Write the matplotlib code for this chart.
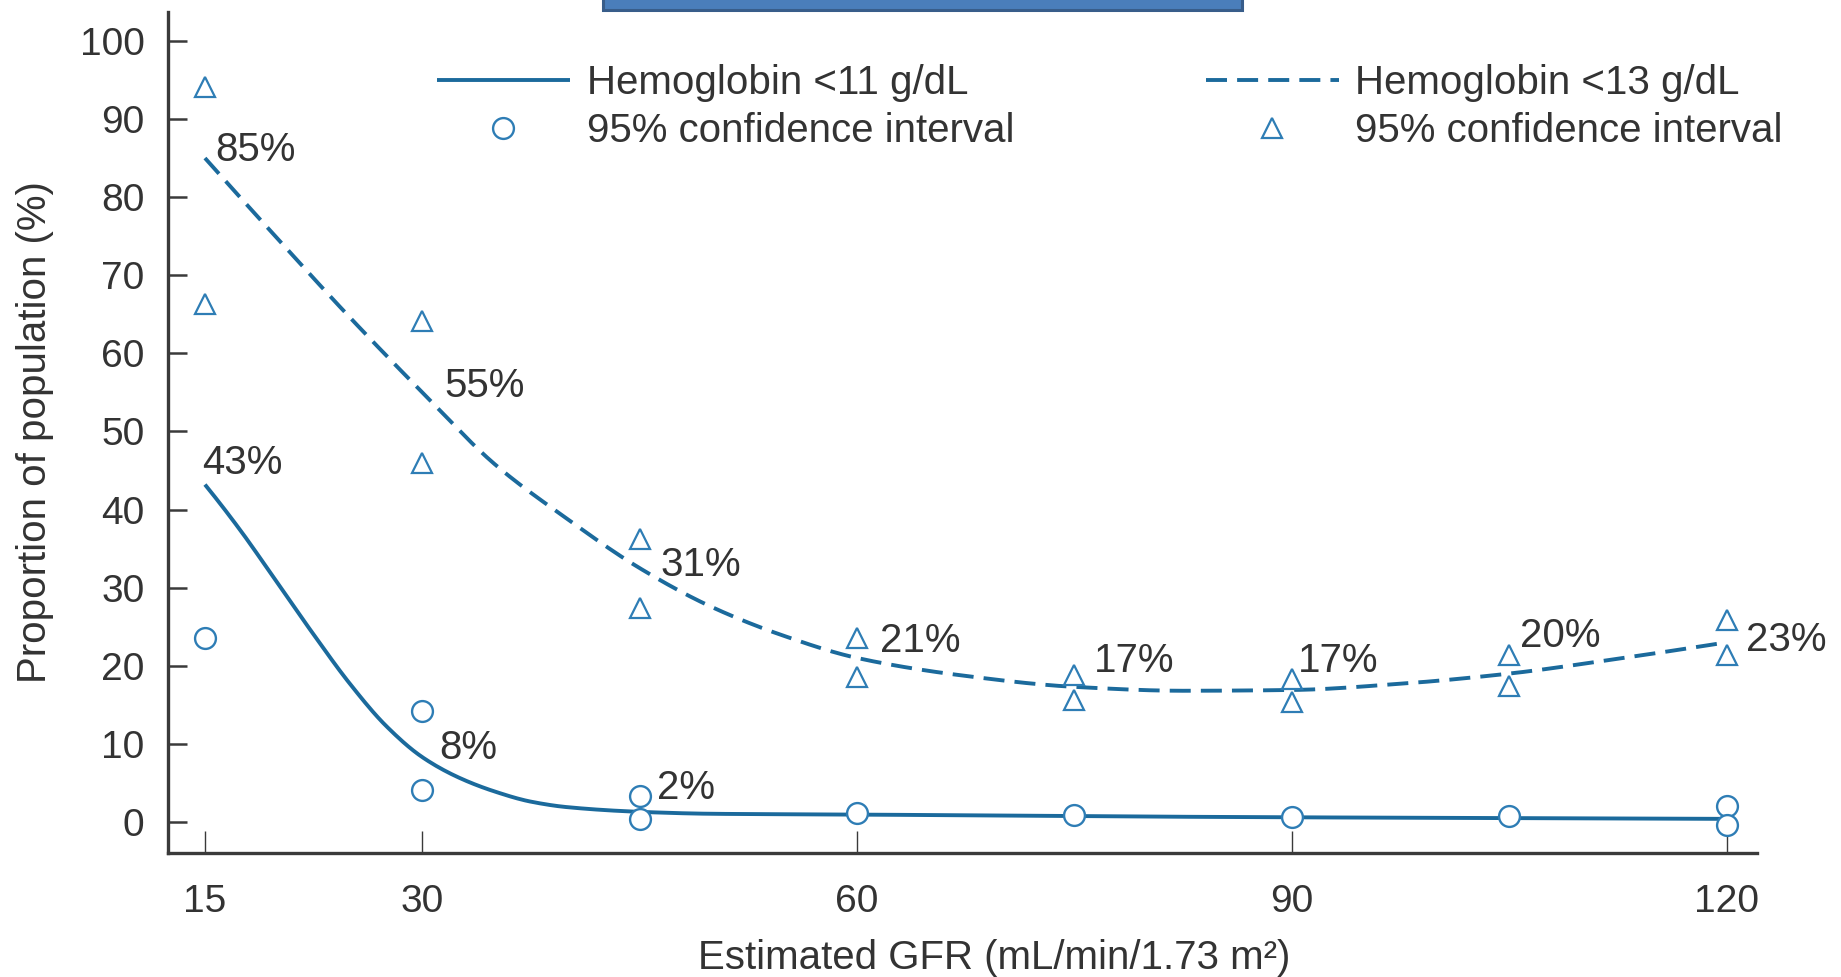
import numpy as np
import matplotlib
matplotlib.use("Agg")
import matplotlib.pyplot as plt
from matplotlib.patches import Rectangle

# ---------------- data ----------------
gfr_ticks = [15, 30, 60, 90, 120]
y_ticks = list(range(0, 101, 10))

# Hemoglobin < 11 g/dL fitted curve
hb11_curve_x = [15, 17.5, 20, 22.5, 25, 27.5, 30, 32.5, 35, 37.5, 40, 45, 50, 60, 75, 90, 105, 120]
hb11_curve_y = [43.2, 37.2, 30.6, 24.0, 17.7, 12.3, 8.3, 5.7, 3.9, 2.6, 1.9, 1.3, 1.05, 0.95, 0.75, 0.6, 0.5, 0.4]
# 95% CI markers (circles)
hb11_ci_x = [15, 30, 30, 45, 45, 60, 75, 90, 105, 120, 120]
hb11_ci_y = [23.5, 14.2, 4.1, 3.3, 0.4, 1.1, 0.9, 0.7, 0.8, 2.0, -0.4]
# labelled estimates
hb11_lab_x = [15, 30, 45]
hb11_lab_v = [43, 8, 2]

# Hemoglobin < 13 g/dL fitted curve
hb13_curve_x = [15, 20, 25, 30, 35, 40, 45, 50, 55, 60, 67.5, 75, 82.5, 90, 97.5, 105, 112.5, 120]
hb13_curve_y = [85, 74.7, 64.6, 55, 45.8, 38.8, 32.5, 27.5, 23.8, 21, 18.7, 17.3, 16.8, 16.9, 17.7, 19.0, 20.9, 23.0]
# 95% CI markers (triangles)
hb13_ci_x = [15, 15, 30, 30, 45, 45, 60, 60, 75, 75, 90, 90, 105, 105, 120, 120]
hb13_ci_y = [94.1, 66.3, 64.2, 46.0, 36.2, 27.4, 23.6, 18.5, 18.8, 15.6, 18.3, 15.3, 21.4, 17.4, 25.9, 21.4]
hb13_lab_x = [15, 30, 45, 60, 75, 90, 105, 120]
hb13_lab_v = [85, 55, 31, 21, 17, 17, 20, 23]

# ---------------- styling ----------------
LINE = "#1b6a9c"
MARK = "#2e7db5"
TXT = "#333333"
FS = 29

plt.rcParams["font.family"] = ["Liberation Sans", "DejaVu Sans"]


def smooth(x, y, n=600):
    """monotone cubic Hermite rendering of a curve through given points"""
    x = np.asarray(x, float)
    y = np.asarray(y, float)
    h = np.diff(x)
    d = np.diff(y) / h
    m = np.zeros_like(y)
    # three-point end slopes
    m[0] = ((2 * h[0] + h[1]) * d[0] - h[0] * d[1]) / (h[0] + h[1])
    m[-1] = ((2 * h[-1] + h[-2]) * d[-1] - h[-1] * d[-2]) / (h[-1] + h[-2])
    for k in range(1, len(x) - 1):
        if d[k - 1] * d[k] <= 0:
            m[k] = 0.0
        else:
            w1 = 2 * h[k] + h[k - 1]
            w2 = h[k] + 2 * h[k - 1]
            m[k] = (w1 + w2) / (w1 / d[k - 1] + w2 / d[k])
    xs = np.linspace(x[0], x[-1], n)
    i = np.clip(np.searchsorted(x, xs, side="right") - 1, 0, len(x) - 2)
    t = (xs - x[i]) / h[i]
    h00 = 2 * t**3 - 3 * t**2 + 1
    h10 = t**3 - 2 * t**2 + t
    h01 = -2 * t**3 + 3 * t**2
    h11 = t**3 - t**2
    ys = h00 * y[i] + h10 * h[i] * m[i] + h01 * y[i + 1] + h11 * h[i] * m[i + 1]
    return xs, ys


W, H = 1841, 977
fig = plt.figure(figsize=(W / 100, H / 100), dpi=100)
fig.patch.set_facecolor("white")
ax = fig.add_axes([168 / W, 1 - 853 / H, (1757 - 168) / W, (853 - 12) / H])

# curves
xs, ys = smooth(hb11_curve_x, hb11_curve_y)
l11, = ax.plot(xs, ys, color=LINE, lw=2.8, solid_capstyle="butt",
               label="Hemoglobin <11 g/dL", zorder=3)
xs, ys = smooth(hb13_curve_x, hb13_curve_y)
l13, = ax.plot(xs, ys, color=LINE, lw=2.8, dash_capstyle="butt",
               label="Hemoglobin <13 g/dL", zorder=3)
l13.set_dashes([5.4, 2.6])

# CI markers
c11, = ax.plot(hb11_ci_x, hb11_ci_y, ls="none", marker="o", ms=15, mfc="white",
               mec=MARK, mew=1.7, label="95% confidence interval", zorder=4)
c13, = ax.plot(hb13_ci_x, hb13_ci_y, ls="none", marker="^", ms=15, mfc="white",
               mec=MARK, mew=1.6, label="95% confidence interval", zorder=4)

# value labels (offsets in pixels: dx, dy)
hb13_off = [(10, 8), (22, 6), (21, 15), (23, 17), (19, 28), (6, 28), (11, 30), (19, 2)]
hb11_off = [(-3, 23), (17, 12), (17, 18)]
for x, v, (dx, dy) in zip(hb13_lab_x, hb13_lab_v, hb13_off):
    ax.annotate(f"{v}%", (x, v), xytext=(dx, dy), textcoords="offset pixels",
                ha="left", va="center", fontsize=FS, color=TXT, zorder=5)
for x, v, (dx, dy) in zip(hb11_lab_x, hb11_lab_v, hb11_off):
    ax.annotate(f"{v}%", (x, v), xytext=(dx, dy), textcoords="offset pixels",
                ha="left", va="center", fontsize=FS, color=TXT, zorder=5)

# axes
ax.set_xlim(12.45, 122.1)
ax.set_ylim(-3.97, 103.7)
for s in ["top", "right"]:
    ax.spines[s].set_visible(False)
for s in ["left", "bottom"]:
    ax.spines[s].set_linewidth(2.4)
    ax.spines[s].set_color("#3a3a3a")

ax.set_xticks(gfr_ticks)
ax.set_yticks(y_ticks)
ax.tick_params(axis="y", direction="in", length=14, width=1.8, colors="#3a3a3a",
               labelsize=FS - 1, labelcolor=TXT, pad=17)
ax.tick_params(axis="x", direction="in", length=16, width=1.0, colors="#3a3a3a",
               labelsize=FS - 1, labelcolor=TXT, pad=22)

ax.set_xlabel("Estimated GFR (mL/min/1.73 m²)", fontsize=FS, color=TXT)
ax.xaxis.set_label_coords(0.52, -0.102)
ax.set_ylabel("Proportion of population (%)", fontsize=FS, color=TXT)
ax.yaxis.set_label_coords(-0.072, 0.5)

leg = ax.legend(handles=[l11, c11, l13, c13], ncol=2, loc="upper left",
                bbox_to_anchor=(437 / W, 1 - 64 / H), bbox_transform=fig.transFigure,
                frameon=False, fontsize=FS, handlelength=3.3, handletextpad=0.42,
                columnspacing=4.75, labelspacing=0.26, borderpad=0, borderaxespad=0,
                numpoints=1)
for t in leg.get_texts():
    t.set_color(TXT)

# blue banner cut off at the top
fig.patches.append(Rectangle((603 / W, 1 - 10 / H), (1242 - 603) / W, 0.03,
                             transform=fig.transFigure, facecolor="#4a7ebb",
                             edgecolor="#385d8a", lw=2.2, zorder=10))

fig.savefig("out.png", dpi=100, facecolor="white")
